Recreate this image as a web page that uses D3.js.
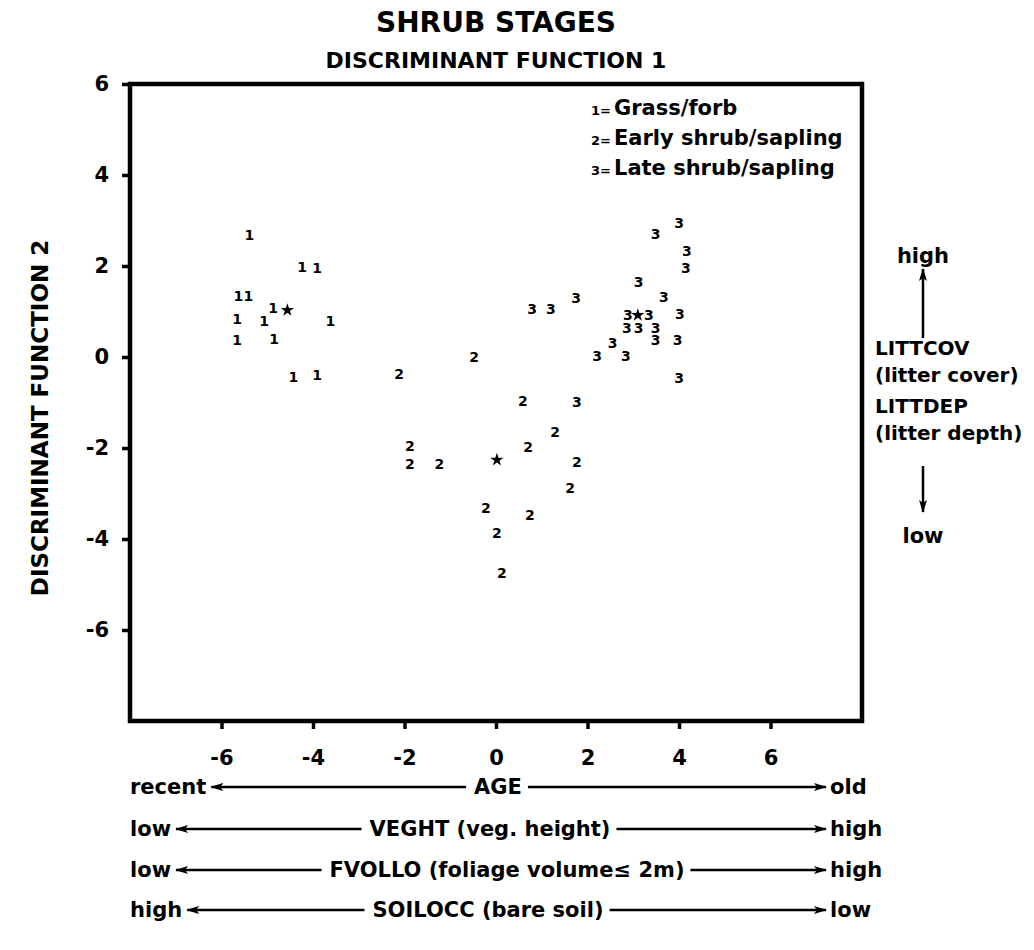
<!DOCTYPE html>
<html><head><meta charset="utf-8">
<script src="https://cdn.jsdelivr.net/npm/d3@7/dist/d3.min.js"></script>
<style>
body{margin:0;background:#fff}
text{font-family:"DejaVu Sans","Liberation Sans",sans-serif;font-weight:bold;fill:#000}
</style>
</head><body>
<svg id="c" width="1034" height="950"></svg>
<script>
// ---- data ----
const xTicks = [-6, -4, -2, 0, 2, 4, 6];
const yTicks = [-6, -4, -2, 0, 2, 4, 6];
const grassForb = [[-5.39,2.68],[-4.24,1.98],[-3.91,1.96],[-5.63,1.34],[-5.41,1.34],[-4.87,1.08],
  [-5.66,0.84],[-5.07,0.79],[-3.62,0.79],[-5.66,0.37],[-4.85,0.40],[-4.43,-0.44],[-3.91,-0.40]];
const earlyShrub = [[-0.48,0.0],[-2.12,-0.37],[0.59,-0.97],[1.29,-1.65],[-1.88,-1.96],[0.70,-1.98],
  [-1.88,-2.35],[-1.24,-2.35],[1.77,-2.31],[1.62,-2.88],[-0.22,-3.32],[0.74,-3.47],[0.02,-3.87],[0.13,-4.75]];
const lateShrub = [[4.0,2.95],[3.49,2.70],[4.17,2.33],[4.15,1.96],[3.12,1.65],[1.75,1.30],[3.67,1.32],
  [0.79,1.05],[1.20,1.05],[2.88,0.92],[3.34,0.92],[4.02,0.95],[2.86,0.64],[3.12,0.64],[3.49,0.64],
  [3.49,0.37],[2.55,0.31],[3.97,0.37],[2.21,0.02],[2.84,0.02],[4.0,-0.46],[1.77,-0.99]];
const centroids = [[-4.56,1.03],[0.02,-2.26],[3.10,0.92]];
const groupCodes = ["1","2","3"];
const legendLabels = ["Grass/forb","Early shrub/sapling","Late shrub/sapling"];
const bottomLeft = ["recent","low","low","high"];
const bottomName = ["AGE","VEGHT (veg. height)","FVOLLO (foliage volume\u2264 2m)","SOILOCC (bare soil)"];
const bottomRight = ["old","high","high","low"];
const sideLines = ["LITTCOV","(litter cover)","LITTDEP","(litter depth)"];
const sideTop = "high", sideBottom = "low";

// ---- layout ----
const svg = d3.select("#c");
const L = 130, R = 862, T = 84, B = 721;
const x = d3.scaleLinear().domain([-8, 8]).range([L, R]);
const y = d3.scaleLinear().domain([-8, 6]).range([B, T]);

const defs = svg.append("defs");
defs.append("marker").attr("id","ah").attr("viewBox","0 0 13 8").attr("refX",12).attr("refY",4)
  .attr("markerWidth",13).attr("markerHeight",8).attr("markerUnits","userSpaceOnUse").attr("orient","auto-start-reverse")
  .append("path").attr("d","M0,0 L13,4 L0,8 L3,4 Z").attr("fill","#000");

// titles
svg.append("text").attr("x",496).attr("y",32).attr("text-anchor","middle").style("font-size","28px").text("SHRUB STAGES");
svg.append("text").attr("x",496).attr("y",68).attr("text-anchor","middle").style("font-size","22px").text("DISCRIMINANT FUNCTION 1");

// axes
const xa = svg.append("g").attr("transform",`translate(0,${B})`)
  .call(d3.axisBottom(x).tickValues(xTicks).tickSize(8).tickSizeOuter(0).tickFormat(d=>d));
const ya = svg.append("g").attr("transform",`translate(${L},0)`)
  .call(d3.axisLeft(y).tickValues(yTicks).tickSize(8).tickSizeOuter(0).tickFormat(d=>d));
[xa, ya].forEach(g => {
  g.select(".domain").remove();
  g.selectAll(".tick line").attr("stroke","#000").attr("stroke-width",3.5);
  g.selectAll(".tick text").style("font-size","21px").style("font-family","'DejaVu Sans',sans-serif").style("font-weight","bold").attr("fill","#000");
});
xa.selectAll(".tick text").attr("y",44).attr("dy","0");
ya.selectAll(".tick text").attr("dx","-10");

// frame
svg.append("rect").attr("x",L).attr("y",T).attr("width",R-L).attr("height",B-T)
  .attr("fill","none").attr("stroke","#000").attr("stroke-width",4.5);

// y title
svg.append("text").attr("transform","translate(48,418) rotate(-90)").attr("text-anchor","middle")
  .style("font-size","23px").text("DISCRIMINANT FUNCTION 2");

// points
const groups = [grassForb, earlyShrub, lateShrub];
groups.forEach((pts, i) => {
  svg.append("g").selectAll("text").data(pts).join("text")
    .attr("x", d => x(d[0])).attr("y", d => y(d[1])).attr("dy","0.36em")
    .attr("text-anchor","middle").style("font-size","14px").text(groupCodes[i]);
});
const star = d3.symbol().type(d3.symbolStar).size(55);
svg.append("g").selectAll("path").data(centroids).join("path")
  .attr("transform", d => `translate(${x(d[0])},${y(d[1])})`).attr("d", star).attr("fill","#000");

// legend
legendLabels.forEach((lab, i) => {
  const ly = 115 + i*30;
  svg.append("text").attr("x",611).attr("y",ly).attr("text-anchor","end").style("font-size","13px").text(groupCodes[i] + "=");
  svg.append("text").attr("x",614).attr("y",ly).style("font-size","21px").text(lab);
});

// bottom gradient rows
const rowY = [794, 836, 877, 917];
const centerX = [498, 490, 507, 488];
bottomName.forEach((nm, i) => {
  const yy = rowY[i];
  const lt = svg.append("text").attr("x",130).attr("y",yy).style("font-size","21px").text(bottomLeft[i]);
  const ct = svg.append("text").attr("x",centerX[i]).attr("y",yy).attr("text-anchor","middle").style("font-size","21px").text(nm);
  const rt = svg.append("text").attr("x",830).attr("y",yy).style("font-size","21px").text(bottomRight[i]);
  const lw = lt.node().getComputedTextLength();
  const cw = ct.node().getComputedTextLength();
  const ay = yy - 7;
  svg.append("line").attr("x1",centerX[i]-cw/2-8).attr("x2",130+lw+5).attr("y1",ay).attr("y2",ay)
    .attr("stroke","#000").attr("stroke-width",2.5).attr("marker-end","url(#ah)");
  svg.append("line").attr("x1",centerX[i]+cw/2+6).attr("x2",826).attr("y1",ay).attr("y2",ay)
    .attr("stroke","#000").attr("stroke-width",2.5).attr("marker-end","url(#ah)");
});

// right side annotation
svg.append("text").attr("x",923).attr("y",263).attr("text-anchor","middle").style("font-size","21px").text(sideTop);
svg.append("line").attr("x1",923).attr("x2",923).attr("y1",338).attr("y2",269)
  .attr("stroke","#000").attr("stroke-width",2.5).attr("marker-end","url(#ah)");
const sideY = [355, 382, 413, 440];
sideLines.forEach((t, i) => {
  svg.append("text").attr("x",875).attr("y",sideY[i]).style("font-size","20px").text(t);
});
svg.append("line").attr("x1",923).attr("x2",923).attr("y1",466).attr("y2",512)
  .attr("stroke","#000").attr("stroke-width",2.5).attr("marker-end","url(#ah)");
svg.append("text").attr("x",923).attr("y",543).attr("text-anchor","middle").style("font-size","21px").text(sideBottom);
</script>
</body></html>
